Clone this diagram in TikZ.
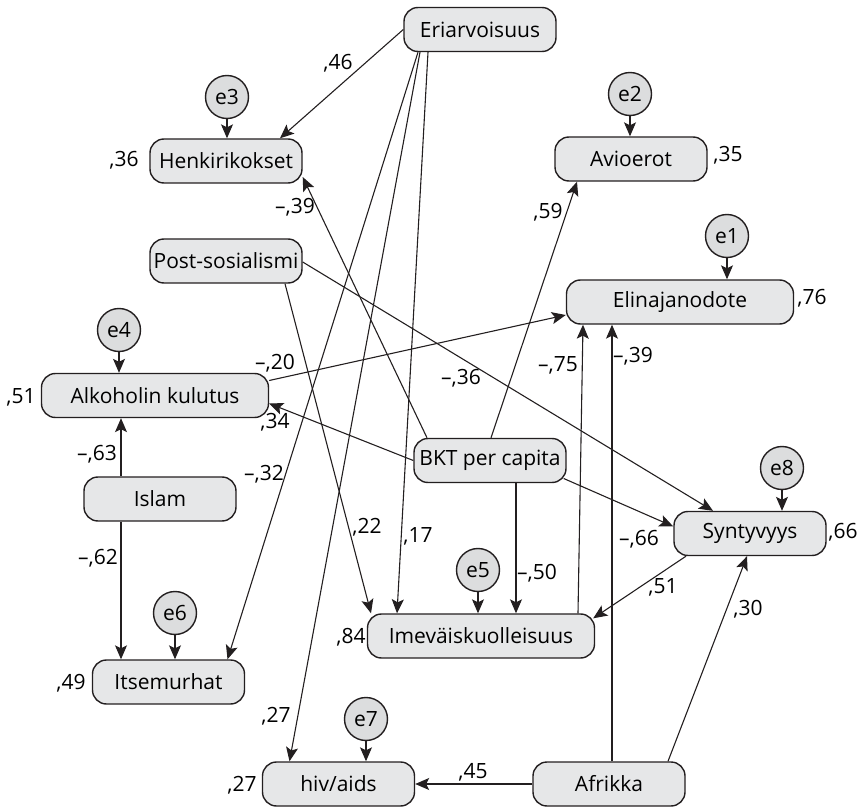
\documentclass[tikz,border=0pt]{standalone}
\usepackage{fontspec}
\setmainfont{Open Sans}
\usetikzlibrary{arrows.meta,calc}
\definecolor{boxgrey}{HTML}{E6E7E8}
\definecolor{errgrey}{HTML}{DCDDDE}
\definecolor{edgeblack}{HTML}{231F20}
\begin{document}
\begin{tikzpicture}[
              x=0.5pt, y=-0.5pt,
              font=\fontsize{10.5}{12}\selectfont,
              >={Stealth[length=7pt,width=6pt,inset=1.5pt]},
              var/.style={draw=edgeblack,fill=boxgrey,line width=0.7pt,rounded corners=7pt,minimum width=76pt,minimum height=22pt,inner sep=0pt},
              widevar/.style={var,minimum width=113.5pt},
              resid/.style={draw=edgeblack,fill=errgrey,circle,line width=0.7pt,minimum size=21.5pt,inner sep=0pt},
              effect/.style={->,line width=0.55pt,draw=edgeblack},
              coef/.style={inner sep=0pt}
            ]
            \useasboundingbox (0,0) rectangle (858,808);

            % Variables
            \node[var] (eri) at (480,29.5) {Eriarvoisuus};
            \node[var] (henki) at (226,161) {Henkirikokset};
            \node[var] (post) at (226,261) {Post-sosialismi};
            \node[var] (avio) at (631,159) {Avioerot};
            \node[widevar] (elina) at (680,302) {Elinajanodote};
            \node[widevar] (alko) at (155,395.5) {Alkoholin kulutus};
            \node[var] (bkt) at (490,460.5) {BKT per capita};
            \node[var] (islam) at (160,499) {Islam};
            \node[var] (syn) at (750,533.5) {Syntyvyys};
            \node[widevar] (imev) at (481,636) {Imeväiskuolleisuus};
            \node[var] (itse) at (168.5,682) {Itsemurhat};
            \node[var] (hiv) at (338.5,784) {hiv/aids};
            \node[var] (afr) at (609,784) {Afrikka};

            % Residuals
            \node[resid] (e1) at (727,236) {e1};
            \node[resid] (e2) at (630,94) {e2};
            \node[resid] (e3) at (227,97) {e3};
            \node[resid] (e4) at (119,330) {e4};
            \node[resid] (e5) at (478,570) {e5};
            \node[resid] (e6) at (175,613) {e6};
            \node[resid] (e7) at (366,719) {e7};
            \node[resid] (e8) at (782,468) {e8};

            \draw[effect] (e1) -- (e1 |- elina.north);
            \draw[effect] (e2) -- (e2 |- avio.north);
            \draw[effect] (e3) -- (e3 |- henki.north);
            \draw[effect] (e4) -- (e4 |- alko.north);
            \draw[effect] (e5) -- (e5 |- imev.north);
            \draw[effect] (e6) -- (e6 |- itse.north);
            \draw[effect] (e7) -- (e7 |- hiv.north);
            \draw[effect] (e8) -- (e8 |- syn.north);

            % Squared multiple correlations
            \node[coef] (r36) at (124,160) {,36};
            \node[coef] (r35) at (728,155) {,35};
            \node[coef] (r76) at (812,298) {,76};
            \node[coef] (r51) at (21,397) {,51};
            \node[coef] (r66) at (843,532) {,66};
            \node[coef] (r84) at (351,637) {,84};
            \node[coef] (r49) at (71,683) {,49};
            \node[coef] (r27) at (242,785) {,27};

            % Paths: Eriarvoisuus
            \draw[effect] (eri.west) -- ($(henki.north)+(54,0)$);
            \draw[effect] ($(eri.south)+(-62,0)$) -- ($(itse.north)+(59,0)$);
            \draw[effect] ($(eri.south)+(-60,0)$) -- ($(hiv.north)+(-49,0)$);
            \draw[effect] ($(eri.south)+(-52,0)$) -- ($(imev.north)+(-84,0)$);
            \node[coef] (c46) at (338,63) {,46};
            \node[coef] (c32) at (264,474) {–,32};
            \node[coef] (c27) at (276,716) {,27};
            \node[coef] (c17) at (418,536) {,17};

            % Paths: Post-sosialismi
            \draw[effect] ($(post.east)+(0,1)$) -- ($(syn.north)+(-37,0)$);
            \draw[effect] ($(post.south)+(59,0)$) -- ($(imev.north)+(-110,0)$);
            \node[coef] (c36) at (461,378) {–,36};
            \node[coef] (c22) at (367,527) {,22};

            % Paths: BKT per capita
            \draw[effect] ($(bkt.north)+(-63,0)$) -- ($(henki.east)+(0,16)$);
            \draw[effect] ($(bkt.north)+(1,0)$) -- ($(avio.south)+(-54,0)$);
            \draw[effect] (bkt.west) -- ($(alko.east)+(0,8)$);
            \draw[effect] ($(bkt.east)+(-3,18)$) -- ($(syn.west)+(0,-7)$);
            \draw[effect] ($(bkt.south)+(26,0)$) -- ($(imev.north)+(35,0)$);
            \node[coef] (c39a) at (295,207) {–,39};
            \node[coef] (c59) at (548,212) {,59};
            \node[coef] (c34) at (275,422) {,34};
            \node[coef] (c66) at (639,539) {–,66};
            \node[coef] (c50) at (537,573) {–,50};

            % Paths: Alkoholin kulutus, Imevaiskuolleisuus, Syntyvyys
            \draw[effect] ($(alko.east)+(0,-15)$) -- ($(elina.west)+(0,13)$);
            \draw[effect] ($(imev.north)+(97,0)$) -- ($(elina.south)+(-97,0)$);
            \draw[effect] ($(syn.south)+(-64,0)$) -- ($(imev.north east)+(-2,5)$);
            \node[coef] (c20) at (275,363) {–,20};
            \node[coef] (c75) at (558,365) {–,75};
            \node[coef] (c51) at (663,587) {,51};

            % Paths: Afrikka
            \draw[effect] ($(afr.north)+(3,0)$) -- ($(elina.south)+(-68,0)$);
            \draw[effect] ($(afr.north)+(59,0)$) -- ($(syn.south)+(-3,0)$);
            \draw[effect] (afr.west) -- (hiv.east);
            \node[coef] (c39b) at (633,356) {–,39};
            \node[coef] (c30) at (748,609) {,30};
            \node[coef] (c45) at (473,772) {,45};

            % Paths: Islam
            \draw[effect] ($(islam.north)+(-39,0)$) -- ($(alko.south)+(-34,0)$);
            \draw[effect] ($(islam.south)+(-39,0)$) -- ($(itse.north)+(-47.5,0)$);
            \node[coef] (c63) at (97,454) {–,63};
            \node[coef] (c62) at (98,558) {–,62};

            \end{tikzpicture}
\end{document}
